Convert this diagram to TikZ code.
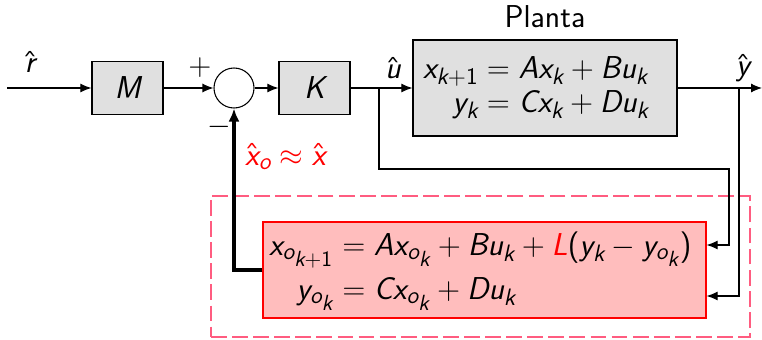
\documentclass[tikz,border=0pt]{standalone}
\usepackage{amsmath}
\usepackage{tikz}
\usetikzlibrary{positioning,arrows.meta,calc}
\usepackage{xcolor}
\definecolor{blkgray}{RGB}{224,224,224}
\definecolor{obsfill}{RGB}{255,189,189}
\definecolor{framered}{RGB}{255,92,128}
\DeclareMathVersion{sans}
\SetSymbolFont{operators}{sans}{TU}{lmss}{m}{n}
\SetSymbolFont{letters}{sans}{TU}{lmss}{m}{it}
\DeclareSymbolFont{sshat}{OT1}{cmss}{m}{n}
\DeclareMathAccent{\hat}{\mathalpha}{sshat}{"5E}
\DeclareMathSizes{18}{18}{13.5}{12.5}

\begin{document}
\begin{tikzpicture}[
    every node/.style={font=\mathversion{sans}\sffamily\fontsize{18}{21}\selectfont},
    blk/.style={draw, fill=blkgray, minimum width=1.42cm,
                minimum height=1.06cm, line width=0.7pt},
    sumnode/.style={draw, circle, minimum size=0.8cm, inner sep=0pt,
                    line width=0.6pt},
    obs/.style={draw=red, fill=obsfill, minimum height=1.92cm,
                inner xsep=0.12cm, text width=8.62cm, align=left,
                line width=0.7pt},
    obsframe/.style={draw=framered, line width=1.1pt,
                     dash pattern=on 9pt off 3pt,
                     minimum width=10.78cm, minimum height=2.82cm},
    arr/.style={-{Latex[length=0.22cm, width=0.18cm]}, line width=0.6pt},
    lbl/.style={inner sep=1pt}
  ]
  \useasboundingbox (0,0) rectangle (15.24,6.78);

  % Forward path
  \coordinate (in) at (0.14,5.02);
  \node[blk] (M) at (2.55,5.02) {$M$};
  \node[sumnode] (sum) at (4.68,5.02) {};
  \node[blk] (K) at (6.29,5.02) {$K$};
  \coordinate (usplit) at (7.58,5.02);
  \node[blk, minimum height=1.92cm, inner xsep=0.2cm, text width=4.88cm,
        align=left] (plant) at (10.90,5.02)
    {$\begin{aligned} x_{k+1} &= Ax_k + Bu_k\\[-5pt] y_k &= Cx_k + Du_k \end{aligned}$};
  \node[above=0.1cm of plant] (plantname) {Planta};
  \coordinate (ysplit) at (14.78,5.02);
  \coordinate (yout) at (15.24,5.02);

  % Labels
  \node[lbl] (rlbl) at (0.60,5.54) {$\hat r$};
  \node[lbl] (plus) at (4.00,5.42) {$+$};
  \node[lbl] (minus) at (4.38,4.24) {$-$};
  \node[lbl] (ulbl) at (7.86,5.42) {$\hat u$};
  \node[lbl] (ylbl) at (14.86,5.42) {$\hat y$};
  \node[lbl, text=red, anchor=west] (xolbl) at (4.86,3.64) {$\hat x_o \approx \hat x$};

  % Observer
  \node[obsframe] (frame) at (9.61,1.45) {};
  \node[obs] (obs) at (9.69,1.38)
    {$\begin{aligned} x_{o_{k+1}} &= Ax_{o_k} + Bu_k + \textcolor{red}{L}(y_k - y_{o_k})\\[-1pt]
      y_{o_k} &= Cx_{o_k} + Du_k \end{aligned}$};
  \coordinate (uloop) at (14.58,3.40);

  % Connectors
  \draw[arr] (in) -- (M);
  \draw[arr] (M) -- (sum);
  \draw[arr] (sum) -- (K);
  \draw[arr] (K) -- (plant);
  \draw[arr] (plant) -- (yout);
  \draw[arr] (usplit) |- (uloop) |- ($(obs.east)+(0,0.50)$);
  \draw[arr] (ysplit) |- ($(obs.east)+(0,-0.52)$);
  \draw[-{Latex[length=0.26cm, width=0.22cm]}, line width=2pt] (obs.west) -| (sum.south);
\end{tikzpicture}
\end{document}
